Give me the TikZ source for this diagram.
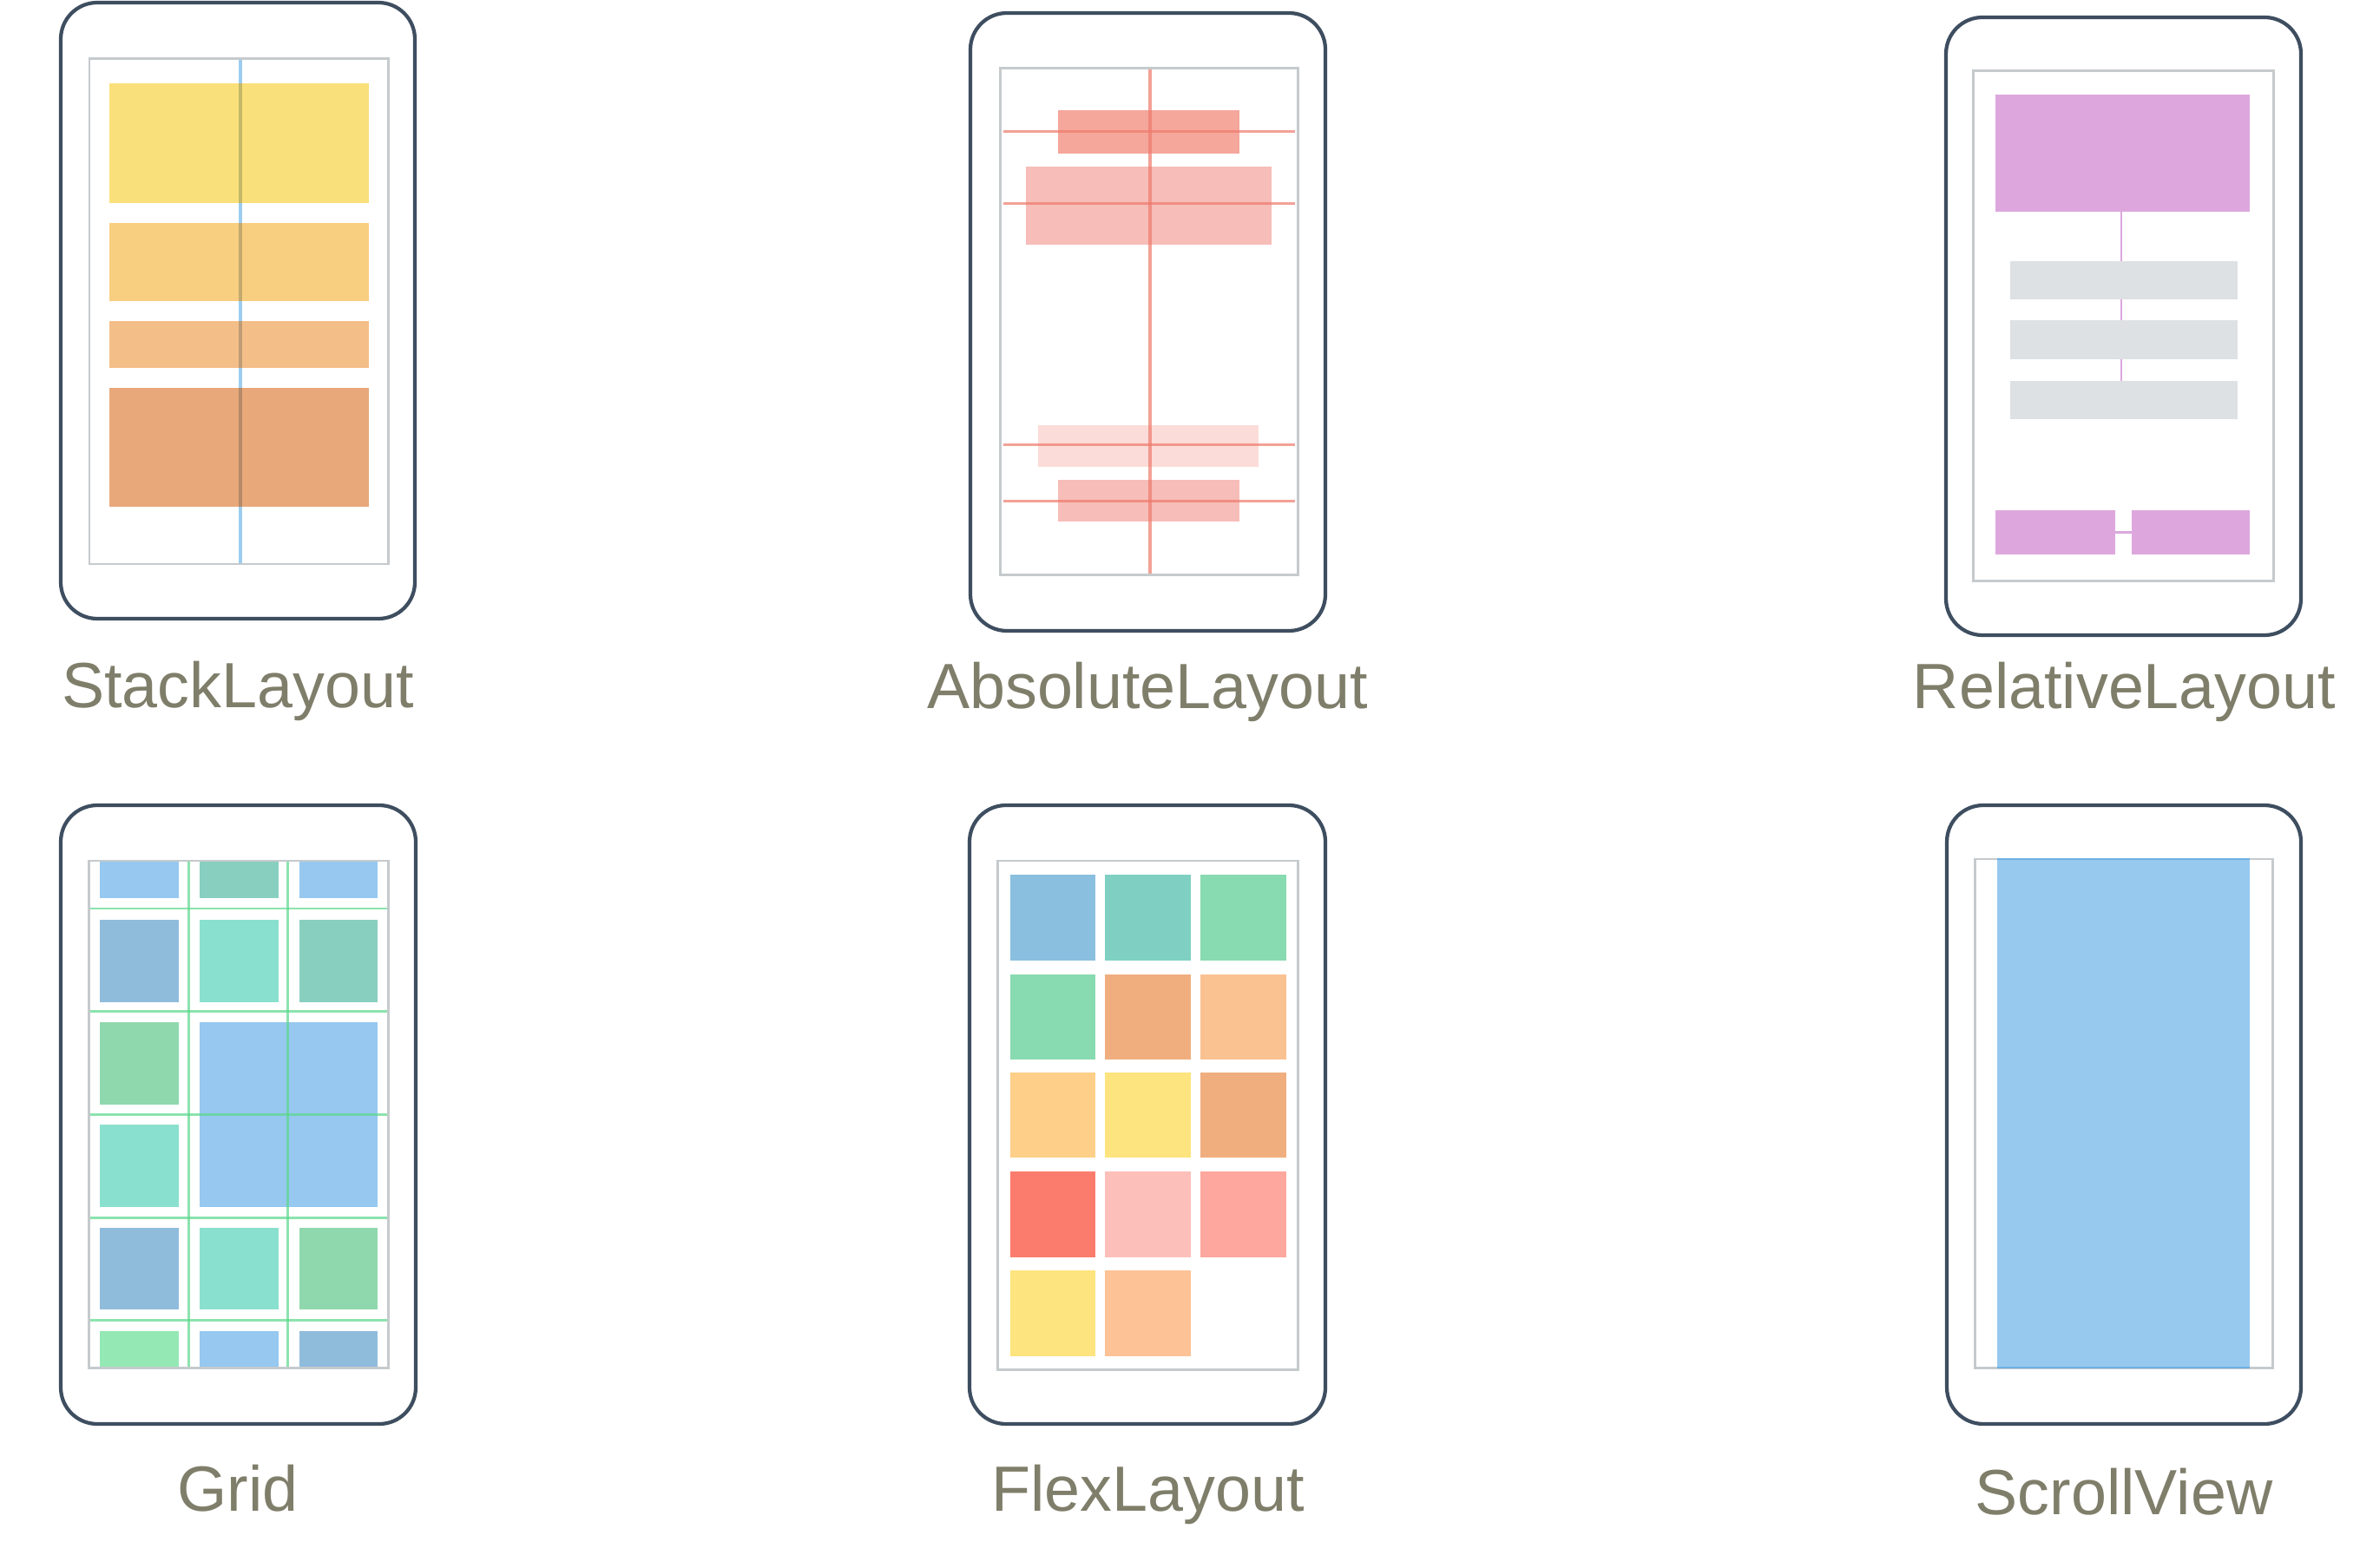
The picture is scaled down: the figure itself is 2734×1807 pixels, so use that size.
\documentclass[tikz,border=0pt]{standalone}
\usepackage{fontspec}
\setmainfont{Liberation Sans}
\definecolor{phonecol}{HTML}{3E4E60}
\definecolor{screencol}{HTML}{C5CACD}
\definecolor{lblcol}{HTML}{7F7E6A}
% stack
\definecolor{sA}{HTML}{F9E07A}
\definecolor{sB}{HTML}{F8CE80}
\definecolor{sC}{HTML}{F4BE88}
\definecolor{sD}{HTML}{E8A87A}
\definecolor{sLine}{HTML}{9CCDF0}
\definecolor{sOver}{HTML}{C8D2DC}
% absolute
\definecolor{aA}{HTML}{F5A79B}
\definecolor{aB}{HTML}{F7BDB8}
\definecolor{aC}{HTML}{FCDCD8}
\definecolor{aLine}{HTML}{EE7A6C}
% relative
\definecolor{rP}{HTML}{DDA7DD}
\definecolor{rG}{HTML}{DEE1E3}
% grid
\definecolor{gBlue}{HTML}{96C8F0}
\definecolor{gTeal}{HTML}{88CFC0}
\definecolor{gSteel}{HTML}{90BCDC}
\definecolor{gAqua}{HTML}{8AE0CE}
\definecolor{gGreen}{HTML}{8FD8AD}
\definecolor{gLGreen}{HTML}{94E8B4}
\definecolor{gLine}{HTML}{5CD88C}
% flex
\definecolor{f11}{HTML}{8ABFDF}
\definecolor{f12}{HTML}{7FD0C2}
\definecolor{f13}{HTML}{88DAB0}
\definecolor{f22}{HTML}{F0AE7F}
\definecolor{f23}{HTML}{FAC191}
\definecolor{f31}{HTML}{FDCF88}
\definecolor{f32}{HTML}{FDE47E}
\definecolor{f41}{HTML}{FB7B6C}
\definecolor{f42}{HTML}{FDBFBA}
\definecolor{f43}{HTML}{FDA79E}
\definecolor{f52}{HTML}{FDC295}
% scroll
\definecolor{scBlue}{HTML}{97C9EF}
\definecolor{scEdge}{HTML}{6FB0E2}
\begin{document}
\begin{tikzpicture}[x=0.01cm,y=-0.01cm,
  phone/.style={draw=phonecol,line width=1.2pt,rounded corners=0.42cm,fill=white},
  screen/.style={draw=screencol,line width=0.85pt},
  lbl/.style={anchor=base,text=lblcol,inner sep=0pt,font=\fontsize{20.95pt}{24pt}\selectfont},
  sline/.style={draw=sLine,line width=1.1pt},
  aline/.style={draw=aLine,opacity=0.7,line width=0.8pt},
  gline/.style={draw=gLine,opacity=0.7,line width=0.85pt},
  rline/.style={draw=rP,line width=0.6pt}]
\useasboundingbox (0,0) rectangle (2734,1807);

% ---------------- StackLayout ----------------
\draw[phone] (70,3) rectangle (478,713);
\coordinate (s1t) at (276.7,68);
\coordinate (s1b) at (276.7,650);
\draw[sline] (s1t) -- (s1b);
\fill[sA] (126,96) rectangle (425,233.6);
\fill[sB] (126,257.4) rectangle (425,347);
\fill[sC] (126,369.6) rectangle (425,423.7);
\fill[sD] (126,447.2) rectangle (425,584.1);
\begin{scope}[blend mode=multiply]
\foreach \ya/\yb in {96/233.6,257.4/347,369.6/423.7,447.2/584.1}{
  \draw[sOver,line width=1.1pt] (276.7,\ya) -- (276.7,\yb);
}
\end{scope}
\draw[screen] (103,68) rectangle (447,650);
\node[lbl] (lstack) at (274,816) {StackLayout};

% ---------------- AbsoluteLayout ----------------
\draw[phone] (1118,15) rectangle (1527,727);
\fill[aA] (1219,126.6) rectangle (1428,176.6);
\fill[aB] (1182,191.8) rectangle (1465,281.8);
\fill[aC] (1196,489.6) rectangle (1450,537.7);
\fill[aB] (1219,552.7) rectangle (1428,601.5);
\draw[aline,line width=1.1pt] (1325,78.5) -- (1325,662.6);
\foreach \yy in {151.7,234.5,512.6,577.1}{
  \draw[aline] (1156,\yy) -- (1492,\yy);
}
\draw[screen] (1152,78.5) rectangle (1495,662.6);
\node[lbl] (labs) at (1322,816.7) {AbsoluteLayout};

% ---------------- RelativeLayout ----------------
\draw[phone] (2242,20) rectangle (2651,732);
\draw[rline] (2444,244) -- (2444,438.7);
\draw[rline,line width=1pt] (2437,613.7) -- (2456,613.7);
\fill[rP] (2299,109) rectangle (2592,244.3);
\fill[rG] (2315.7,301) rectangle (2578.3,345.2);
\fill[rG] (2315.7,368.8) rectangle (2578.3,414.1);
\fill[rG] (2315.7,438.7) rectangle (2578.3,483);
\fill[rP] (2299,588) rectangle (2437,639.2);
\fill[rP] (2456,588) rectangle (2592,639.2);
\draw[screen] (2273,82) rectangle (2619,669.5);
\node[lbl] (lrel) at (2447.5,816.7) {RelativeLayout};

% ---------------- Grid ----------------
\draw[phone] (70,928) rectangle (479,1641);
\begin{scope}
\clip (102.7,992) rectangle (447,1576);
% row 0
\fill[gBlue]  (115,940) rectangle (205.7,1035.3);
\fill[gTeal]  (230,940) rectangle (320.7,1035.3);
\fill[gBlue]  (345,940) rectangle (435,1035.3);
% row 1
\fill[gSteel] (115,1059.6) rectangle (205.7,1155.1);
\fill[gAqua]  (230,1059.6) rectangle (320.7,1155.1);
\fill[gTeal]  (345,1059.6) rectangle (435,1155.1);
% row 2-3
\fill[gGreen] (115,1178.3) rectangle (205.7,1272.8);
\fill[gBlue]  (230,1178.3) rectangle (435,1391);
\fill[gAqua]  (115,1296) rectangle (205.7,1391);
% row 4
\fill[gSteel] (115,1414.8) rectangle (205.7,1508.9);
\fill[gAqua]  (230,1414.8) rectangle (320.7,1508.9);
\fill[gGreen] (345,1414.8) rectangle (435,1508.9);
% row 5
\fill[gLGreen] (115,1533.5) rectangle (205.7,1630);
\fill[gBlue]   (230,1533.5) rectangle (320.7,1630);
\fill[gSteel]  (345,1533.5) rectangle (435,1630);
\end{scope}
\foreach \xx in {217.7,331.7}{
  \draw[gline] (\xx,992) -- (\xx,1576);
}
\foreach \yy in {1047,1165.8,1284.5,1403.2,1521.8}{
  \draw[gline] (102.7,\yy) -- (447,\yy);
}
\draw[screen] (102.7,992) rectangle (447,1576);
\node[lbl] (lgrid) at (274,1741.7) {Grid};

% ---------------- FlexLayout ----------------
\draw[phone] (1117,928) rectangle (1527,1641);
\fill[f11] (1164,1008.3) rectangle (1262.3,1107);
\fill[f12] (1273.3,1008.3) rectangle (1372,1107);
\fill[f13] (1382.7,1008.3) rectangle (1481.7,1107);
\fill[f13] (1164,1122.5) rectangle (1262.3,1221);
\fill[f22] (1273.3,1122.5) rectangle (1372,1221);
\fill[f23] (1382.7,1122.5) rectangle (1481.7,1221);
\fill[f31] (1164,1236.2) rectangle (1262.3,1334.4);
\fill[f32] (1273.3,1236.2) rectangle (1372,1334.4);
\fill[f22] (1382.7,1236.2) rectangle (1481.7,1334.4);
\fill[f41] (1164,1350.2) rectangle (1262.3,1448.8);
\fill[f42] (1273.3,1350.2) rectangle (1372,1448.8);
\fill[f43] (1382.7,1350.2) rectangle (1481.7,1448.8);
\fill[f32] (1164,1464.1) rectangle (1262.3,1562.6);
\fill[f52] (1273.3,1464.1) rectangle (1372,1562.6);
\draw[screen] (1149,992) rectangle (1495,1578);
\node[lbl] (lflex) at (1322.5,1741) {FlexLayout};

% ---------------- ScrollView ----------------
\draw[phone] (2243,928) rectangle (2651,1641);
\draw[screen] (2275,990) rectangle (2618,1576);
\fill[scBlue] (2301,990) rectangle (2592.3,1576);
\draw[scEdge,line width=0.7pt] (2301,990) -- (2592.3,990);
\draw[scEdge,line width=0.7pt] (2301,1576) -- (2592.3,1576);
\node[lbl] (lscroll) at (2447,1745) {ScrollView};
\end{tikzpicture}
\end{document}
